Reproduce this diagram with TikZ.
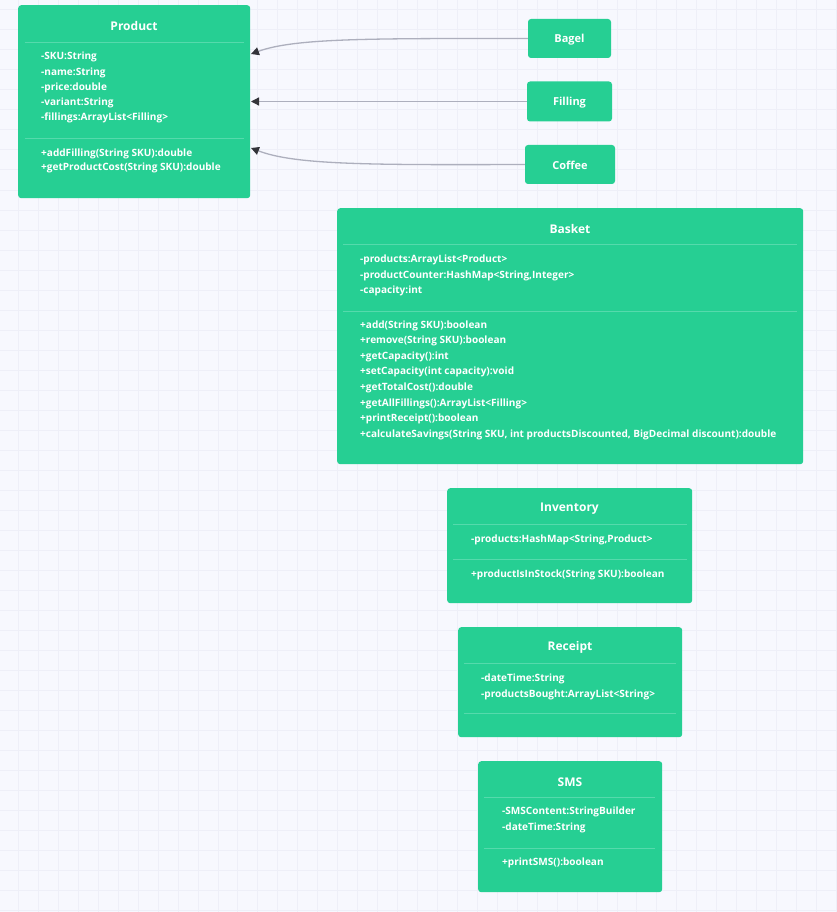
\documentclass[tikz,border=0pt]{standalone}
\usepackage{fontspec}
\setmainfont{Open Sans}
\usetikzlibrary{arrows.meta}
\definecolor{bg}{HTML}{F7F8FE}
\definecolor{gridc}{HTML}{EEEFF8}
\definecolor{boxgreen}{HTML}{26CF93}
\definecolor{sepc}{HTML}{55DAAC}
\definecolor{linkc}{HTML}{ADAFBD}
\definecolor{tipc}{HTML}{33343A}
\tikzset{
  x=1pt, y=-1pt,
  umlbox/.style={fill=boxgreen, draw=none, rounded corners=3pt, anchor=north west, inner sep=0pt},
  smallbox/.style={fill=boxgreen, draw=none, rounded corners=3pt, inner sep=0pt},
  ttl/.style={text=white, font=\fontsize{12}{14}\selectfont\bfseries, inner sep=0pt, yshift=-0.8pt},
  mem/.style={text=white, font=\fontsize{10.05}{12}\selectfont\bfseries, inner sep=0pt, anchor=west, text height=7.5pt, text depth=0pt},
  sepline/.style={draw=sepc, line width=0.7pt},
  link/.style={draw=linkc, line width=1.3pt, -{Triangle[length=8pt,width=8pt,color=tipc]}},
}
\begin{document}
\begin{tikzpicture}
\useasboundingbox (0,0) rectangle (837,912);
\fill[bg] (0,0) rectangle (837,912);
\foreach \gx in {0,...,41} \draw[gridc, line width=1pt] ({18.5+19.95*\gx},0) -- ({18.5+19.95*\gx},912);
\foreach \gy in {0,...,45} \draw[gridc, line width=1pt] (0,{10+20*\gy}) -- (837,{10+20*\gy});

% Product
\node[umlbox, minimum width=232pt, minimum height=193pt] (product) at (18,5) {};
\node[ttl] (productT) at (134,25) {Product};
\draw[sepline] (24.5,42) -- (244,42);
\draw[sepline] (24.5,138) -- (244,138);
\foreach \t [count=\i] in {-SKU:String,-name:String,-price:double,-variant:String,{-fillings:ArrayList<Filling>}}
  \node[mem] (pa\i) at (41,{56+15.3*(\i-1)}) {\t};
\foreach \t [count=\i] in {+addFilling(String SKU):double,+getProductCost(String SKU):double}
  \node[mem] (pm\i) at (41,{152.5+14.7*(\i-1)}) {\t};

% Bagel, Filling, Coffee
\node[smallbox, minimum width=83pt, minimum height=39pt] (bagel) at (569.5,38.5) {};
\node[ttl, font=\fontsize{11}{13}\selectfont\bfseries] (bagelT) at (bagel) {Bagel};
\node[smallbox, minimum width=85pt, minimum height=40pt] (filling) at (569.5,101.5) {};
\node[ttl, font=\fontsize{11}{13}\selectfont\bfseries] (fillingT) at (filling) {Filling};
\node[smallbox, minimum width=90pt, minimum height=39pt] (coffee) at (570,164.5) {};
\node[ttl, font=\fontsize{11}{13}\selectfont\bfseries] (coffeeT) at (coffee) {Coffee};

\coordinate (pin1) at (251,54);
\coordinate (pin2) at (251,101.5);
\coordinate (pin3) at (251,148);
\draw[link] (bagel.west) .. controls (370,38.5) and (295,38) .. (pin1);
\draw[link] (filling.west) -- (pin2);
\draw[link] (coffee.west) .. controls (370,165) and (295,165) .. (pin3);

% Basket
\node[umlbox, minimum width=466pt, minimum height=256pt] (basket) at (337,208) {};
\node[ttl] (basketT) at (570,228) {Basket};
\draw[sepline] (343,244.5) -- (797,244.5);
\draw[sepline] (343,311) -- (797,311);
\foreach \t [count=\i] in {{-products:ArrayList<Product>},{-productCounter:HashMap<String,Integer>},-capacity:int}
  \node[mem] (ba\i) at (360,{259+15.3*(\i-1)}) {\t};
\foreach \t [count=\i] in {+add(String SKU):boolean,+remove(String SKU):boolean,+getCapacity():int,+setCapacity(int capacity):void,+getTotalCost():double,{+getAllFillings():ArrayList<Filling>},+printReceipt():boolean,{+calculateSavings(String SKU, int productsDiscounted, BigDecimal discount):double}}
  \node[mem] (bm\i) at (360,{324.5+15.55*(\i-1)}) {\t};

% Inventory
\node[umlbox, minimum width=245pt, minimum height=115pt] (inventory) at (447,488) {};
\node[ttl] (inventoryT) at (569.5,508) {Inventory};
\draw[sepline] (453,524) -- (687,524);
\draw[sepline] (453,559) -- (687,559);
\node[mem] (ia1) at (471,539) {-products:HashMap<String,Product>};
\node[mem] (im1) at (471,573.5) {+productIsInStock(String SKU):boolean};

% Receipt
\node[umlbox, minimum width=224pt, minimum height=110pt] (receipt) at (458,627) {};
\node[ttl] (receiptT) at (570,647) {Receipt};
\draw[sepline] (464,663) -- (676,663);
\draw[sepline] (464,713) -- (676,713);
\node[mem] (ra1) at (481,678) {-dateTime:String};
\node[mem] (ra2) at (481,693.5) {-productsBought:ArrayList<String>};

% SMS
\node[umlbox, minimum width=184pt, minimum height=131pt] (sms) at (478,761) {};
\node[ttl] (smsT) at (570,781) {SMS};
\draw[sepline] (484,797) -- (655,797);
\draw[sepline] (484,848) -- (655,848);
\node[mem] (sa1) at (502,811) {-SMSContent:StringBuilder};
\node[mem] (sa2) at (502,827) {-dateTime:String};
\node[mem] (sm1) at (502,861.5) {+printSMS():boolean};
\end{tikzpicture}
\end{document}
